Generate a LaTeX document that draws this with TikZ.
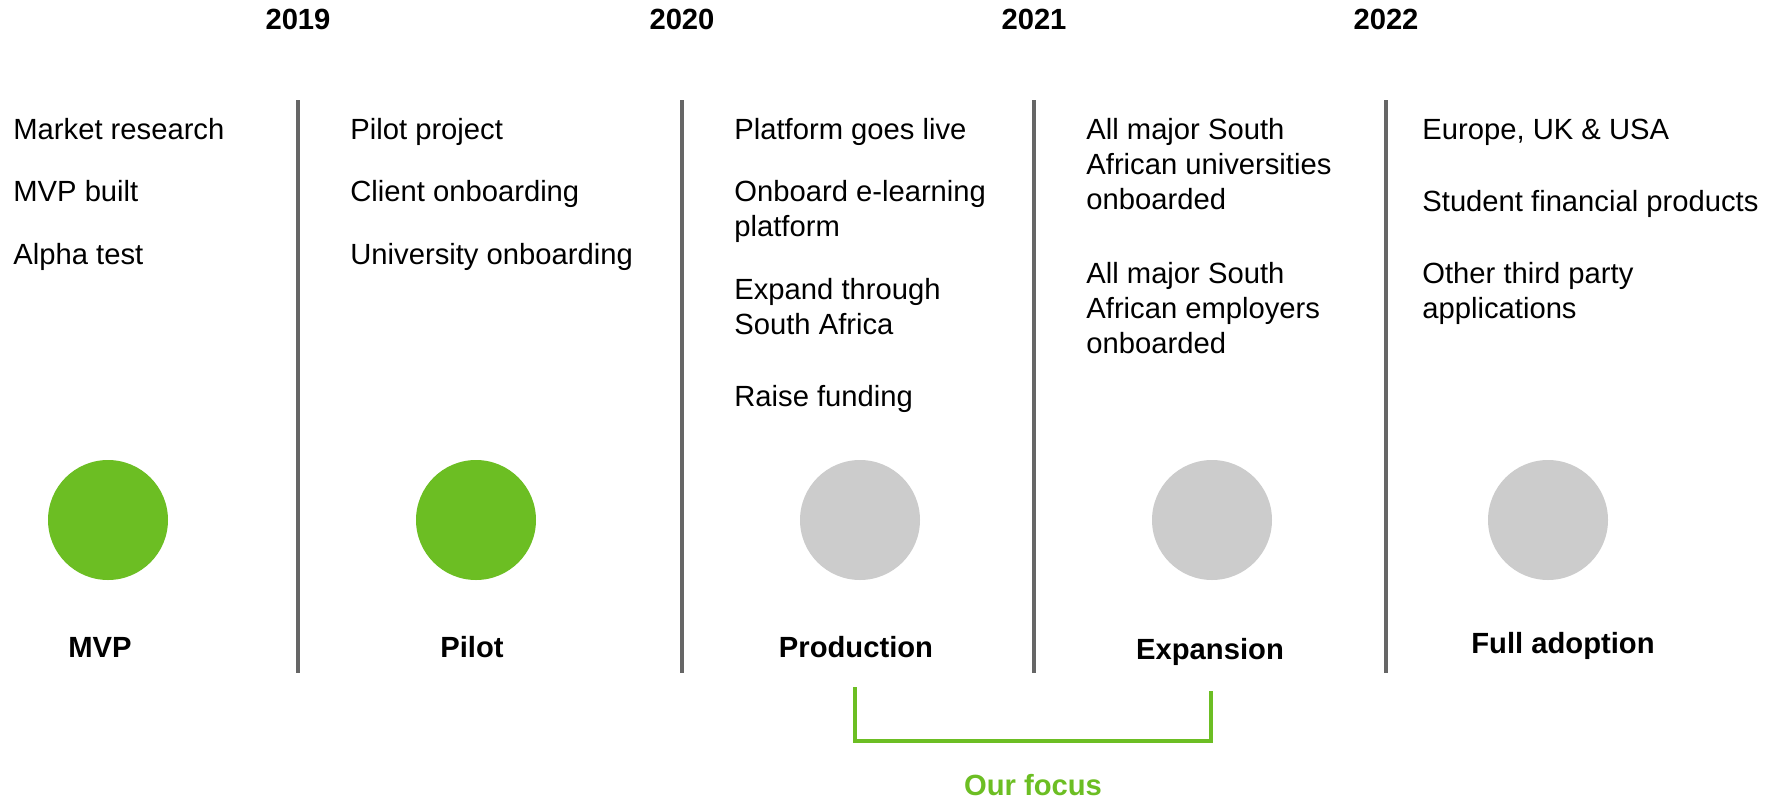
\documentclass[tikz,border=0pt]{standalone}
\usepackage{fontspec}
\setmainfont{Liberation Sans}
\definecolor{donegreen}{HTML}{6CBE23}
\definecolor{todogray}{HTML}{CCCCCC}
\definecolor{divgray}{HTML}{666666}

\begin{document}
\begin{tikzpicture}[x=0.5pt,y=-0.5pt,
  year/.style={font=\fontsize{14.6}{17.5}\selectfont\bfseries,anchor=base,inner sep=0pt},
  item/.style={font=\fontsize{14.6}{17.5}\selectfont,anchor=base west,align=left,inner sep=0pt},
  stage/.style={font=\fontsize{14.6}{17.5}\selectfont\bfseries,anchor=base,inner sep=0pt},
  dot/.style={circle,minimum size=60pt,inner sep=0pt},
  divider/.style={draw=divgray,line width=2.4pt},
  focusline/.style={draw=donegreen,line width=1.8pt}]
\useasboundingbox (0,0) rectangle (1779,798);

\node[year] (y19) at (298,29) {2019};
\node[year] (y20) at (682,29) {2020};
\node[year] (y21) at (1034,29) {2021};
\node[year] (y22) at (1386,29) {2022};

\foreach \x in {298,682,1034,1386}
  \draw[divider] (\x,100) -- (\x,673);

\node[item] (mr) at (13,139) {Market research};
\node[item] (mb) at (13,201) {MVP built};
\node[item] (at) at (13,264) {Alpha test};

\node[item] (pp) at (350,139) {Pilot project};
\node[item] (co) at (350,201) {Client onboarding};
\node[item] (uo) at (350,264) {University onboarding};

\node[item] (gl) at (734,139) {Platform goes live};
\node[item] (el) at (734,236) {Onboard e-learning\\platform};
\node[item] (sa) at (734,334) {Expand through\\South Africa};
\node[item] (rf) at (734,406) {Raise funding};

\node[item] (au) at (1086,209) {All major South\\African universities\\onboarded};
\node[item] (ae) at (1086,353) {All major South\\African employers\\onboarded};

\node[item] (eu) at (1422,139) {Europe, UK \& USA};
\node[item] (sf) at (1422,211) {Student financial products};
\node[item] (ot) at (1422,318) {Other third party\\applications};

\node[dot,fill=donegreen] (mvp) at (108,520) {};
\node[dot,fill=donegreen] (pilot) at (476,520) {};
\node[dot,fill=todogray] (prod) at (860,520) {};
\node[dot,fill=todogray] (expa) at (1212,520) {};
\node[dot,fill=todogray] (full) at (1548,520) {};

\node[stage] (mvpl) at (100,657) {MVP};
\node[stage] (pilotl) at (472,657) {Pilot};
\node[stage] (prodl) at (856,657) {Production};
\node[stage] (expal) at (1210,659) {Expansion};
\node[stage] (fulll) at (1563,653) {Full adoption};

\coordinate (fa) at (855,687);
\coordinate (fb) at (1211,691);
\draw[focusline] (fa) -- ++(0,54) -| (fb);
\node[stage,text=donegreen] (focus) at (1033,795) {Our focus};
\end{tikzpicture}
\end{document}
